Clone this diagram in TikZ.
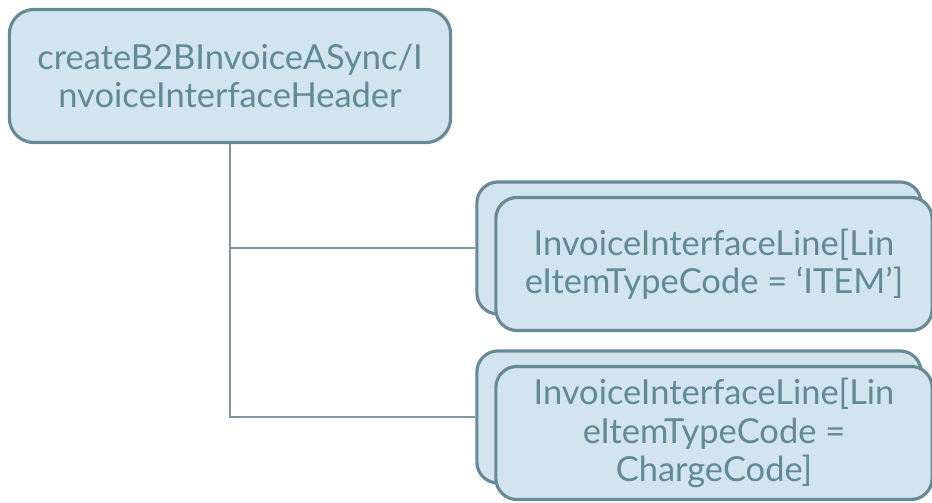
\documentclass[tikz,border=0pt]{standalone}
\usepackage{fontspec}
\setmainfont{Lato}
\usepackage{tikz}
\definecolor{boxfill}{RGB}{210,228,237}
\definecolor{boxedge}{RGB}{104,138,150}
\definecolor{boxtext}{RGB}{96,138,150}
\definecolor{linkline}{RGB}{122,150,160}

\begin{document}
\begin{tikzpicture}[x=0.01cm,y=-0.01cm,
  every node/.style={fill=boxfill,draw=boxedge,line width=0.9pt,text=boxtext,align=center,inner sep=0pt,font=\fontsize{9.8}{10.9}\selectfont},
  hdrbox/.style={rounded corners=7pt,minimum width=4.41cm,minimum height=1.33cm},
  backbox/.style={rounded corners=6pt,minimum width=4.44cm,minimum height=1.32cm},
  linebox/.style={rounded corners=6pt,minimum width=4.36cm,minimum height=1.33cm},
  link/.style={draw=linkline,line width=0.6pt}]
  \useasboundingbox (0,0) rectangle (932,503);

  % header
  \node[hdrbox] (hdr) at (230,76) {createB2BInvoiceASync/I\\nvoiceInterfaceHeader};

  % line boxes, each a stack of two
  \node[backbox] (itemback) at (699,248) {};
  \node[linebox] (item) at (714,264) {InvoiceInterfaceLine[Lin\\eItemTypeCode = ‘ITEM’]};
  \node[backbox] (chargeback) at (699,417) {};
  \node[linebox] (charge) at (714,433) {InvoiceInterfaceLine[Lin\\eItemTypeCode =\\ChargeCode]};

  \draw[link] (hdr.south) |- (itemback.west);
  \draw[link] (hdr.south) |- (chargeback.west);
\end{tikzpicture}
\end{document}
